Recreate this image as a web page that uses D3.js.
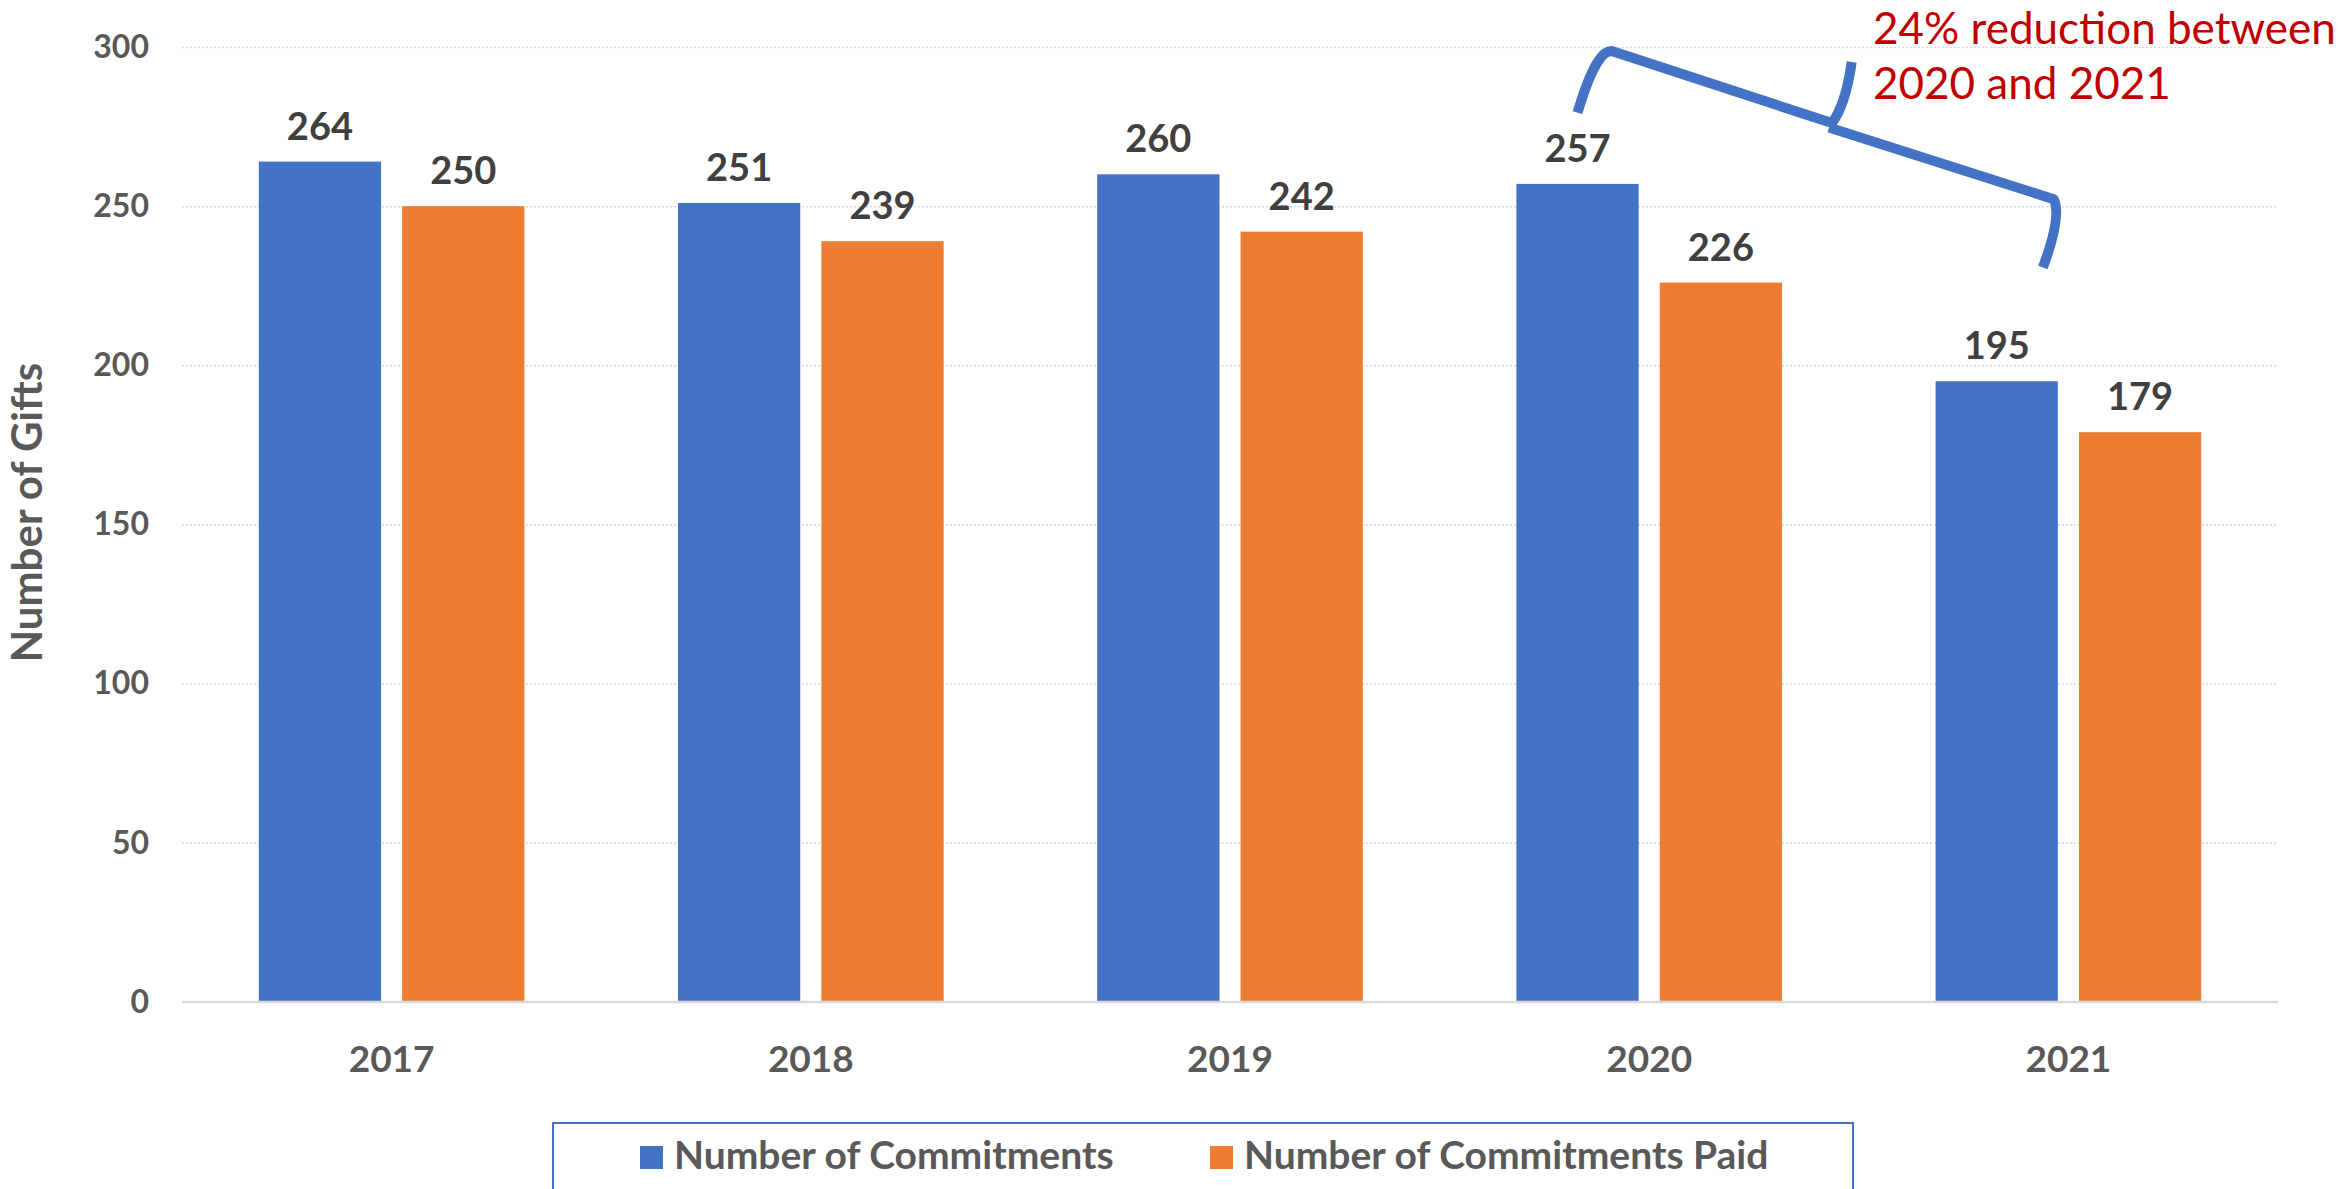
<!DOCTYPE html>
<html>
<head>
<meta charset="utf-8">
<script src="https://cdn.jsdelivr.net/npm/d3@7"></script>
<style>
  body { margin: 0; background: #fff; }
  svg text { font-family: Lato, "Open Sans", sans-serif; }
</style>
</head>
<body>
<div id="chart"></div>
<script>
// chart data
var years = ["2017", "2018", "2019", "2020", "2021"];
var seriesNames = ["Number of Commitments", "Number of Commitments Paid"];
var commitments = [264, 251, 260, 257, 195];
var commitmentsPaid = [250, 239, 242, 226, 179];
var yTicks = [0, 50, 100, 150, 200, 250, 300];
var noteLines = ["24% reduction between", "2020 and 2021"];
// brace annotation, [category position, value]
var braceLeft = [[3.329, 279.4], [3.378, 301.2], [3.418, 298.4], [3.936, 276.1], [3.969, 282], [3.983, 295.3]];
var braceRight = [[3.929, 274.7], [4.465, 252.2], [4.485, 247], [4.439, 230.7]];

var colors = ["#4472C4", "#ED7D31"];

var W = 2339, H = 1189;
var margin = { top: 47, left: 182, right: 61, bottom: 187 };
var width = W - margin.left - margin.right,
  height = H - margin.top - margin.bottom;

var svg = d3.select("#chart").append("svg")
  .attr("width", W)
  .attr("height", H);
var g = svg.append("g")
  .attr("transform", "translate(" + margin.left + "," + margin.top + ")");

var x0 = d3.scaleBand()
  .domain(years)
  .range([0, width])
  .paddingInner(0.3664)
  .paddingOuter(0.1832);
var x1 = d3.scaleBand()
  .domain(seriesNames)
  .range([0, x0.bandwidth()])
  .paddingInner(0.147);
var y = d3.scaleLinear()
  .domain([0, 300])
  .range([height, 0]);
// continuous category position for the annotation
var xPos = d3.scaleLinear().domain([0, years.length]).range([0, width]);

// gridlines
var grid = g.append("g")
  .call(d3.axisLeft(y).tickValues(yTicks.slice(1)).tickSize(-width).tickFormat(""));
grid.select(".domain").remove();
grid.selectAll("line")
  .attr("stroke", "#D9D9D9")
  .attr("stroke-width", 1.5)
  .attr("stroke-dasharray", "2,2");

// y tick labels
var yAxis = g.append("g")
  .call(d3.axisLeft(y).tickValues(yTicks).tickSize(0).tickPadding(33));
yAxis.select(".domain").remove();
yAxis.selectAll("text")
  .attr("fill", "#595959")
  .style("font-size", "32px")
  .style("font-weight", "bold");

// bars
var rows = years.map(function(yr, i) {
  return { year: yr, values: [commitments[i], commitmentsPaid[i]] };
});
var groups = g.selectAll(".group")
  .data(rows)
  .join("g")
  .attr("class", "group")
  .attr("transform", function(d) { return "translate(" + x0(d.year) + ",0)"; });

groups.selectAll("rect")
  .data(function(d) { return d.values.map(function(v, j) { return { name: seriesNames[j], value: v, j: j }; }); })
  .join("rect")
  .attr("x", function(d) { return x1(d.name); })
  .attr("y", function(d) { return y(d.value); })
  .attr("width", x1.bandwidth())
  .attr("height", function(d) { return height - y(d.value); })
  .attr("fill", function(d) { return colors[d.j]; });

groups.selectAll(".val")
  .data(function(d) { return d.values.map(function(v, j) { return { name: seriesNames[j], value: v }; }); })
  .join("text")
  .attr("class", "val")
  .attr("x", function(d) { return x1(d.name) + x1.bandwidth() / 2; })
  .attr("y", function(d) { return y(d.value) - 22; })
  .attr("text-anchor", "middle")
  .attr("fill", "#404040")
  .style("font-size", "38px")
  .style("font-weight", "bold")
  .text(function(d) { return d.value; });

// baseline
g.append("line")
  .attr("x1", 0).attr("x2", width)
  .attr("y1", y(0)).attr("y2", y(0))
  .attr("stroke", "#D9D9D9")
  .attr("stroke-width", 2.5);

// x axis labels
var xAxis = g.append("g")
  .attr("transform", "translate(0," + height + ")")
  .call(d3.axisBottom(x0).tickSize(0));
xAxis.select(".domain").remove();
xAxis.selectAll("text")
  .attr("dy", null)
  .attr("y", 70)
  .attr("fill", "#595959")
  .style("font-size", "37px")
  .style("font-weight", "bold");

// y axis title
svg.append("text")
  .attr("transform", "translate(42," + (margin.top + height / 2 - 12) + ") rotate(-90)")
  .attr("text-anchor", "middle")
  .attr("fill", "#595959")
  .style("font-size", "42px")
  .style("font-weight", "bold")
  .text("Number of Gifts");

// brace
function pt(p) { return [xPos(p[0]), y(p[1])]; }
var bp = d3.path();
var a = braceLeft.map(pt);
bp.moveTo(a[0][0], a[0][1]);
bp.quadraticCurveTo(a[1][0], a[1][1], a[2][0], a[2][1]);
bp.lineTo(a[3][0], a[3][1]);
bp.quadraticCurveTo(a[4][0], a[4][1], a[5][0], a[5][1]);
var b = braceRight.map(pt);
bp.moveTo(b[0][0], b[0][1]);
bp.lineTo(b[1][0], b[1][1]);
bp.quadraticCurveTo(b[2][0], b[2][1], b[3][0], b[3][1]);
g.append("path")
  .attr("d", bp.toString())
  .attr("fill", "none")
  .attr("stroke", "#4472C4")
  .attr("stroke-width", 10)
  .attr("stroke-linejoin", "round");

// annotation text
svg.append("g").selectAll("text")
  .data(noteLines)
  .join("text")
  .attr("x", 1873)
  .attr("y", function(d, i) { return 44 + i * 55; })
  .attr("fill", "#C00000")
  .style("font-size", "44px")
  .text(function(d) { return d; });

// legend
var legend = svg.append("g");
legend.append("rect")
  .attr("x", 553).attr("y", 1123)
  .attr("width", 1300).attr("height", 100)
  .attr("fill", "#fff")
  .attr("stroke", "#4472C4")
  .attr("stroke-width", 2);
var legendX = [640, 1210];
var items = legend.selectAll(".item")
  .data(seriesNames)
  .join("g")
  .attr("class", "item")
  .attr("transform", function(d, i) { return "translate(" + legendX[i] + ",1169)"; });
items.append("rect")
  .attr("x", 0).attr("y", -23)
  .attr("width", 23).attr("height", 23)
  .attr("fill", function(d, i) { return colors[i]; });
items.append("text")
  .attr("x", 34)
  .attr("y", 0)
  .attr("fill", "#595959")
  .style("font-size", "39px")
  .style("font-weight", "bold")
  .text(function(d) { return d; });
</script>
</body>
</html>
